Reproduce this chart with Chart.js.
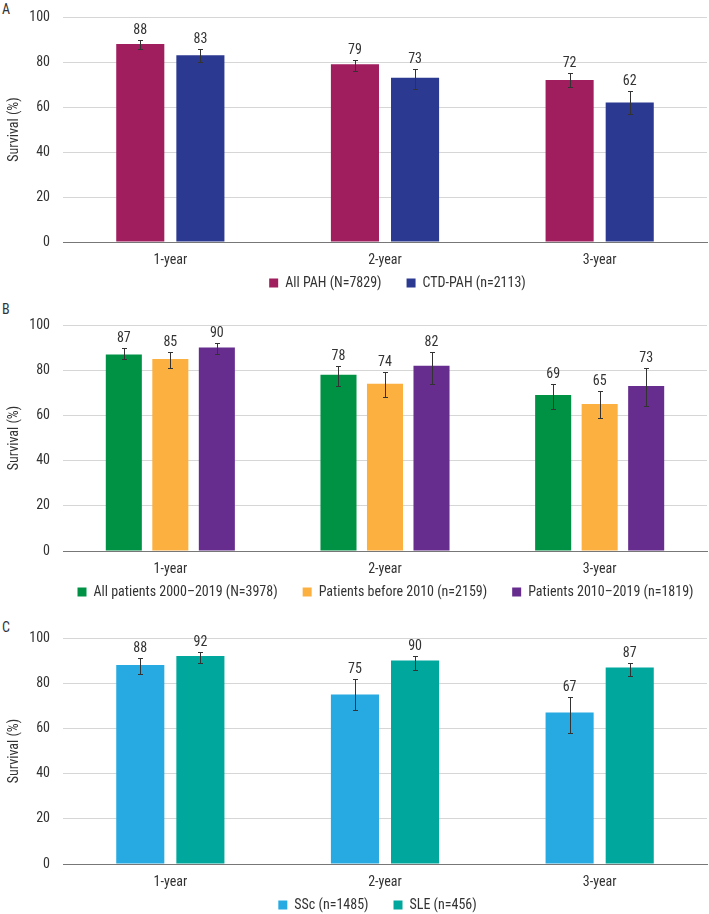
<!DOCTYPE html>
<html><head><meta charset="utf-8">
<script src="https://cdn.jsdelivr.net/npm/chart.js@4/dist/chart.umd.min.js"></script>
<style>
html,body{margin:0;padding:0;background:#fff;}
body{width:709px;height:914px;position:relative;overflow:hidden;}
.panel{position:absolute;left:0;}
.plabel{position:absolute;left:2px;font:14px 'Roboto Condensed','DejaVu Sans Condensed',sans-serif;color:#333;line-height:1;}
</style></head>
<body>
<div class="plabel" style="top:2px">A</div>
<div class="plabel" style="top:302px">B</div>
<div class="plabel" style="top:620px">C</div>
<canvas id="cA" class="panel" style="top:-10px" width="709" height="331"></canvas>
<canvas id="cB" class="panel" style="top:300px" width="709" height="330"></canvas>
<canvas id="cC" class="panel" style="top:605px" width="709" height="338"></canvas>
<script>
// ---- data ----
const categories = ['1-year', '2-year', '3-year'];
const yTickValues = [0, 20, 40, 60, 80, 100];

const seriesNamesA = ['All PAH (N=7829)', 'CTD-PAH (n=2113)'];
const allPahValues = [88, 79, 72];
const allPahLow = [86, 76, 69];
const allPahHigh = [90, 81, 75];
const ctdPahValues = [83, 73, 62];
const ctdPahLow = [80, 68, 57];
const ctdPahHigh = [86, 77, 67];

const seriesNamesB = ['All patients 2000\u20132019 (N=3978)', 'Patients before 2010 (n=2159)', 'Patients 2010\u20132019 (n=1819)'];
const allPatientsValues = [87, 78, 69];
const allPatientsLow = [85, 73, 63];
const allPatientsHigh = [90, 82, 74];
const before2010Values = [85, 74, 65];
const before2010Low = [81, 68, 59];
const before2010High = [88, 79, 71];
const recentValues = [90, 82, 73];
const recentLow = [87, 74, 64];
const recentHigh = [92, 88, 81];

const seriesNamesC = ['SSc (n=1485)', 'SLE (n=456)'];
const sscValues = [88, 75, 67];
const sscLow = [84, 68, 58];
const sscHigh = [91, 82, 74];
const sleValues = [92, 90, 87];
const sleLow = [89, 86, 83];
const sleHigh = [94, 92, 89];

// ---- style ----
const FONT = "'Roboto Condensed','DejaVu Sans Condensed',sans-serif";
const FS = 14;
const TXT = '#333333';

const errorBarPlugin = {
  id: 'errorBars',
  afterDatasetsDraw(chart) {
    const ctx = chart.ctx;
    const ys = chart.scales.y;
    chart.data.datasets.forEach((ds, di) => {
      const meta = chart.getDatasetMeta(di);
      meta.data.forEach((bar, i) => {
        const x = Math.round(bar.x) + 0.5;
        const yl = Math.round(ys.getPixelForValue(ds.errLow[i])) + 0.5;
        const yh = Math.round(ys.getPixelForValue(ds.errHigh[i])) + 0.5;
        ctx.save();
        ctx.strokeStyle = '#333';
        ctx.lineWidth = 1;
        ctx.beginPath();
        ctx.moveTo(x, yl); ctx.lineTo(x, yh);
        ctx.moveTo(x - 2.5, yl); ctx.lineTo(x + 2.5, yl);
        ctx.moveTo(x - 2.5, yh); ctx.lineTo(x + 2.5, yh);
        ctx.stroke();
        ctx.fillStyle = TXT;
        ctx.font = FS + 'px ' + FONT;
        ctx.textAlign = 'center';
        ctx.textBaseline = 'middle';
        ctx.fillText(String(ds.data[i]), bar.x, yh - 10);
        ctx.restore();
      });
    });
  }
};

function makeChart(id, datasets, padTop, catPct, barPct, legendShift) {
  const el = document.getElementById(id);
  const shiftPlugin = {
    id: 'legendShift',
    afterLayout(chart) {
      const lg = chart.legend;
      if (lg) {
        lg.left += legendShift; lg.right += legendShift;
        lg.top -= 21; lg.bottom -= 21;
      }
    }
  };
  return new Chart(el, {
    type: 'bar',
    data: {
      labels: categories,
      datasets: datasets.map(d => ({
        label: d.label,
        data: d.values,
        errLow: d.low,
        errHigh: d.high,
        backgroundColor: d.color,
        borderWidth: 0,
        categoryPercentage: catPct,
        barPercentage: barPct
      }))
    },
    options: {
      responsive: false,
      animation: false,
      devicePixelRatio: 1,
      layout: { padding: { top: padTop, right: 2, left: 0, bottom: 0 } },
      plugins: {
        legend: {
          position: 'bottom',
          fullSize: true,
          labels: {
            boxWidth: 9, boxHeight: 9, padding: 25,
            color: TXT,
            font: { family: FONT, size: FS }
          }
        },
        tooltip: { enabled: false }
      },
      scales: {
        x: {
          grid: { display: false, drawTicks: false },
          border: { display: true, color: '#777', width: 1 },
          ticks: { color: TXT, padding: 10, font: { family: FONT, size: FS } },
          afterFit(s) { s.height = 30; }
        },
        y: {
          min: 0, max: 100,
          afterBuildTicks(s) { s.ticks = yTickValues.map(v => ({ value: v })); },
          grid: {
            drawTicks: false,
            color: c => (c.tick && c.tick.value === 0) ? '#777' : '#d6d6d6',
            lineWidth: 1
          },
          border: { display: false },
          ticks: { color: TXT, padding: 13, font: { family: FONT, size: FS } },
          title: { display: true, text: 'Survival (%)', color: TXT, font: { family: FONT, size: FS }, padding: { top: 6, bottom: 0 } },
          afterFit(s) { s.width = 63; }
        }
      }
    },
    plugins: [errorBarPlugin, shiftPlugin]
  });
}

makeChart('cA', [
  { label: seriesNamesA[0], values: allPahValues, low: allPahLow, high: allPahHigh, color: '#A01D5E' },
  { label: seriesNamesA[1], values: ctdPahValues, low: ctdPahLow, high: ctdPahHigh, color: '#2B3990' }
], 27, 0.56, 0.8, 44);

makeChart('cB', [
  { label: seriesNamesB[0], values: allPatientsValues, low: allPatientsLow, high: allPatientsHigh, color: '#009244' },
  { label: seriesNamesB[1], values: before2010Values, low: before2010Low, high: before2010High, color: '#FBB040' },
  { label: seriesNamesB[2], values: recentValues, low: recentLow, high: recentHigh, color: '#662D8F' }
], 25, 0.65, 0.775, 32);

makeChart('cC', [
  { label: seriesNamesC[0], values: sscValues, low: sscLow, high: sscHigh, color: '#27AAE1' },
  { label: seriesNamesC[1], values: sleValues, low: sleLow, high: sleHigh, color: '#00A79D' }
], 33, 0.56, 0.8, 24);
</script>
</body></html>
